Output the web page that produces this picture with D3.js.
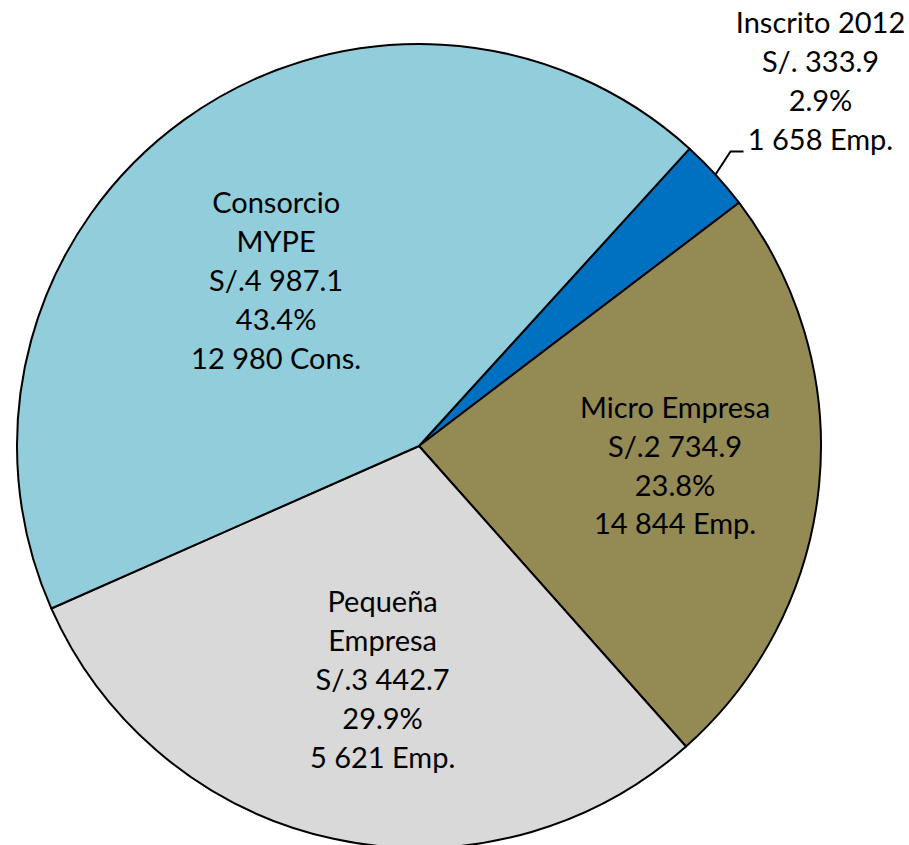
<!DOCTYPE html>
<html>
<head>
<meta charset="utf-8">
<script src="https://cdn.jsdelivr.net/npm/d3@7"></script>
<style>
  html, body { margin: 0; padding: 0; background: #fff; }
  svg text { font-family: Lato, "Open Sans", sans-serif; fill: #000; }
</style>
</head>
<body>
<svg id="chart" width="909" height="845"></svg>
<script>
// Pie chart: contracts by company type. Slices in clockwise order from ~42 deg.
const categories = ["Inscrito 2012", "Micro Empresa", "Pequeña Empresa", "Consorcio MYPE"];
const amounts = [333.9, 2734.9, 3442.7, 4987.1];
const percents = ["2.9%", "23.8%", "29.9%", "43.4%"];
const counts = ["1 658 Emp.", "14 844 Emp.", "5 621 Emp.", "12 980 Cons."];
const amountLabels = ["S/. 333.9", "S/.2 734.9", "S/.3 442.7", "S/.4 987.1"];
const nameLines = [["Inscrito 2012"], ["Micro Empresa"], ["Pequeña", "Empresa"], ["Consorcio", "MYPE"]];

const colors = ["#0070C0", "#948A54", "#D9D9D9", "#92CDDC"];

const cx = 419;
const cy = 446;
const R = 402;
const START = 42.3 * Math.PI / 180;
const FONT = 29;
const LINE = 38.8;

// Radial position of each inside label (fraction of radius) plus a small nudge in px,
// the way Excel's best-fit placement drifts off the mid angle.
const labelFrac = [null, 0.64, 0.59, 0.54];
const labelNudge = [null, [0, -5], [14, 2], [-16, 11]];

const svg = d3.select("#chart");
const g = svg.append("g").attr("transform", `translate(${cx},${cy})`);

const data = categories.map((c, i) => ({ i, name: c, value: amounts[i] }));

const pie = d3.pie().sort(null).value((d) => d.value)
  .startAngle(START).endAngle(START + 2 * Math.PI);
const arcs = pie(data);

const arc = d3.arc().innerRadius(0).outerRadius(R);

g.selectAll("path.slice")
  .data(arcs)
  .join("path")
  .attr("class", "slice")
  .attr("d", arc)
  .attr("fill", (d) => colors[d.data.i])
  .attr("stroke", "#000")
  .attr("stroke-width", 2)
  .attr("stroke-linejoin", "round");

function labelLines(i) {
  return [...nameLines[i], amountLabels[i], percents[i], counts[i]];
}

// Multi-line text block centred on (x, y).
function block(x, y, lines) {
  const t = g.append("text")
    .attr("text-anchor", "middle")
    .attr("font-size", FONT);
  const top = y - (lines.length - 1) * LINE / 2;
  lines.forEach((s, k) => {
    t.append("tspan")
      .attr("x", x)
      .attr("y", top + k * LINE)
      .attr("dy", "0.35em")
      .text(s);
  });
}

arcs.forEach((a) => {
  const i = a.data.i;
  if (labelFrac[i] == null) return;
  const r = R * labelFrac[i];
  const [x, y] = d3.arc().innerRadius(r).outerRadius(r).centroid(a);
  block(x + labelNudge[i][0], y + labelNudge[i][1], labelLines(i));
});

// Outside label for the small slice, with a leader line.
const small = arcs[0];
const mid = (small.startAngle + small.endAngle) / 2;
const p0 = [Math.sin(mid) * R, -Math.cos(mid) * R];
const p1 = [p0[0] + 15, p0[1] - 23];
const p2 = [p1[0] + 13, p1[1]];
g.append("polyline")
  .attr("points", [p0, p1, p2].map((p) => p.join(",")).join(" "))
  .attr("fill", "none")
  .attr("stroke", "#000")
  .attr("stroke-width", 2);

const smallLines = labelLines(0);
block(p2[0] + 77, p2[1] - 12 - (smallLines.length - 1) * LINE / 2, smallLines);
</script>
</body>
</html>
